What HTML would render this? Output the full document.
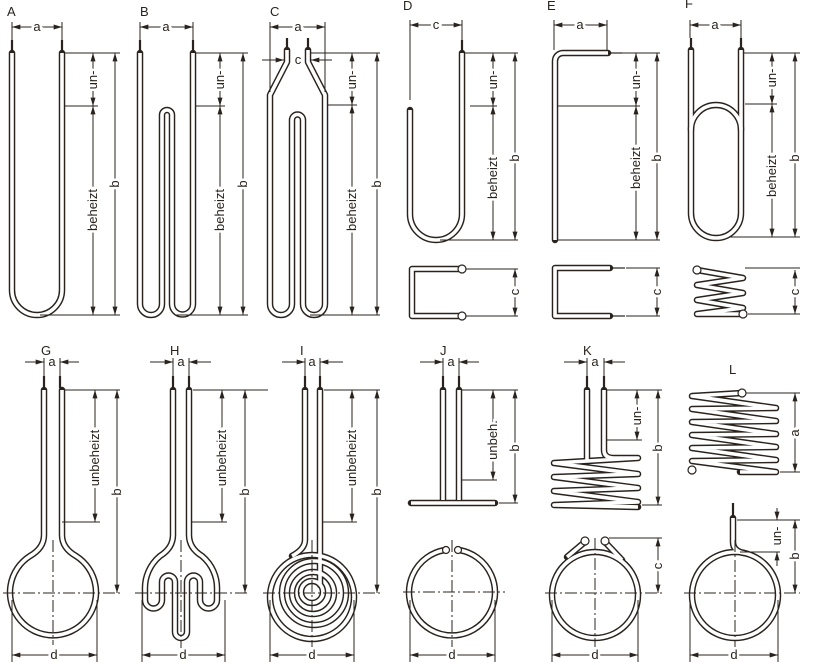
<!DOCTYPE html>
<html><head><meta charset="utf-8"><style>
html,body{margin:0;padding:0;background:#fff}
svg{display:block}
text{font-family:"Liberation Sans",sans-serif;font-size:13px;fill:#2a231d}
.big{font-size:14px}
.d{stroke:#2a231d;stroke-width:1;fill:none}
.lt{paint-order:stroke;stroke:#fff;stroke-width:5px}
.cl{stroke:#2a231d;stroke-width:1;stroke-dasharray:12 3 2 3;fill:none}
.pin{stroke:#2a231d;stroke-width:2.2}
</style></head><body>
<svg width="813" height="665" viewBox="0 0 813 665" xmlns="http://www.w3.org/2000/svg">
<defs>
<marker id="ar" viewBox="0 0 10 6" refX="10" refY="3" markerWidth="9" markerHeight="5" markerUnits="userSpaceOnUse" orient="auto-start-reverse"><path d="M0,0 L10,3 L0,6z" fill="#2a231d"/></marker>
<g id="tubes" fill="none" stroke-linejoin="round">
<path d="M12,53 V290 A25,25 0 0 0 62,290 V53"/>
<path d="M140,53 V304 A11,11 0 0 0 162,304 V115 A5,5 0 0 1 172,115 V304 A10.5,10.5 0 0 0 193,304 V53"/>
<path d="M287,50 V62 L270,95 V304 A11,11 0 0 0 292,304 V120 A5.5,5.5 0 0 1 303,120 V304 A11,11 0 0 0 325,304 V95 L308,62 V50"/>
<path d="M462,53 V214 A26,26 0 0 1 410,214 V110"/>
<path d="M460,269 H412 V316 H460"/>
<path d="M608,53 H563 A8,8 0 0 0 555,61 V240"/>
<path d="M610,268 H555 V316 H610"/>
<path d="M691,50 V130"/><path d="M741,50 V130"/>
<rect x="691" y="105" width="50" height="133" rx="25"/>
<path d="M697,270 L743,278 L697,285 L743,293 L697,300 L743,308 L697,314 L743,314"/>
<path d="M44,390 V535 Q44,548 30,556 A43,43 0 1 0 76,556 Q62,548 62,535 V390"/>
<path d="M173,390 V535 Q173,548 160,556 A42,42 0 0 0 145,590 V600 A8.5,8.5 0 0 0 162,600 V582 A6.5,6.5 0 0 1 175,582 V632 A6,6 0 0 0 187,632 V582 A6.5,6.5 0 0 1 200,582 V600 A8.5,8.5 0 0 0 217,600 V590 A42,42 0 0 0 202,556 Q189,548 189,535 V390"/>
<path d="M305,390 V540 Q305,549 292,556"/>
<circle cx="312" cy="597" r="42"/>
<circle cx="314" cy="593" r="32"/>
<circle cx="313" cy="593" r="21"/>
<circle cx="312" cy="592" r="11"/>
<path d="M320,390 V585"/>
<path d="M443,390 V500"/><path d="M459,390 V500"/>
<path d="M411,503 H495"/>
<path d="M445,550 A43,43 0 1 0 459,550"/>
<path d="M587,390 V462"/>
<path d="M604,390 V450 Q604,458 614,458 H638 L554,463 L638,474 L554,477 L638,488 L554,491 L638,502 L554,505 L638,507"/>
<circle cx="595" cy="595" r="43"/>
<path d="M586,541 L567,557"/><path d="M604,541 L622,560"/>
<path d="M742,393 L692,396 L776,408 L692,409 L776,421 L692,422 L776,434 L692,435 L776,447 L692,448 L776,460 L692,461 L776,472 L740,472"/>
<circle cx="735" cy="595" r="43"/>
<path d="M733,518 V542 Q733,551 744,553"/>
</g>
</defs>
<use href="#tubes" stroke="#2a231d" stroke-width="6.5" stroke-linecap="round"/>
<use href="#tubes" stroke="#fff" stroke-width="3.6"/>
<g fill="#fff" stroke="#2a231d" stroke-width="1.2">
<circle cx="462" cy="269" r="4"/><circle cx="462" cy="316" r="4"/>
<circle cx="697" cy="270" r="4"/><circle cx="743" cy="314" r="4"/>
<circle cx="742" cy="393" r="4"/><circle cx="692" cy="470" r="4"/>
<circle cx="585" cy="541" r="4"/><circle cx="605" cy="541" r="4"/>
<circle cx="446" cy="550" r="3.5"/><circle cx="458" cy="550" r="3.5"/>
</g>
<g class="pin">
<line x1="12" y1="40" x2="12" y2="51"/><line x1="62" y1="40" x2="62" y2="51"/>
<line x1="140" y1="40" x2="140" y2="51"/><line x1="193" y1="40" x2="193" y2="51"/>
<line x1="287" y1="38" x2="287" y2="48"/><line x1="308" y1="38" x2="308" y2="48"/>
<line x1="462" y1="40" x2="462" y2="51"/>
<line x1="610" y1="53" x2="622" y2="53" stroke-width="1.2"/>
<line x1="612" y1="268" x2="625" y2="268" stroke-width="1.2"/><line x1="612" y1="316" x2="625" y2="316" stroke-width="1.2"/>
<line x1="691" y1="38" x2="691" y2="49"/><line x1="741" y1="38" x2="741" y2="49"/>
<line x1="44" y1="376" x2="44" y2="388"/><line x1="60" y1="376" x2="60" y2="388"/>
<line x1="173" y1="376" x2="173" y2="388"/><line x1="189" y1="376" x2="189" y2="388"/>
<line x1="305" y1="376" x2="305" y2="388"/><line x1="320" y1="376" x2="320" y2="388"/>
<line x1="443" y1="376" x2="443" y2="388"/><line x1="459" y1="376" x2="459" y2="388"/>
<line x1="587" y1="376" x2="587" y2="388"/><line x1="604" y1="376" x2="604" y2="388"/>
<line x1="733" y1="503" x2="733" y2="516"/>
</g>
<g class="d">
<line x1="12" y1="22" x2="12" y2="40"/><line x1="62" y1="22" x2="62" y2="40"/>
<line x1="12" y1="27" x2="62" y2="27" marker-start="url(#ar)" marker-end="url(#ar)"/>
<line x1="65" y1="53" x2="120" y2="53"/><line x1="40" y1="315" x2="120" y2="315"/>
<line x1="65" y1="106" x2="98" y2="106"/>
<line x1="93" y1="53" x2="93" y2="106" marker-start="url(#ar)" marker-end="url(#ar)"/>
<line x1="93" y1="106" x2="93" y2="315" marker-start="url(#ar)" marker-end="url(#ar)"/>
<line x1="115" y1="53" x2="115" y2="315" marker-start="url(#ar)" marker-end="url(#ar)"/>
<line x1="140" y1="22" x2="140" y2="40"/><line x1="193" y1="22" x2="193" y2="40"/>
<line x1="140" y1="27" x2="193" y2="27" marker-start="url(#ar)" marker-end="url(#ar)"/>
<line x1="196" y1="53" x2="248" y2="53"/><line x1="175" y1="315" x2="248" y2="315"/>
<line x1="196" y1="106" x2="225" y2="106"/>
<line x1="220" y1="53" x2="220" y2="106" marker-start="url(#ar)" marker-end="url(#ar)"/>
<line x1="220" y1="106" x2="220" y2="315" marker-start="url(#ar)" marker-end="url(#ar)"/>
<line x1="243" y1="53" x2="243" y2="315" marker-start="url(#ar)" marker-end="url(#ar)"/>
<line x1="270" y1="22" x2="270" y2="92"/><line x1="325" y1="22" x2="325" y2="92"/>
<line x1="270" y1="27" x2="325" y2="27" marker-start="url(#ar)" marker-end="url(#ar)"/>
<line x1="262" y1="60" x2="284" y2="60" marker-end="url(#ar)"/>
<line x1="332" y1="60" x2="311" y2="60" marker-end="url(#ar)"/>
<line x1="311" y1="53" x2="380" y2="53"/><line x1="310" y1="315" x2="380" y2="315"/>
<line x1="328" y1="105" x2="357" y2="105"/>
<line x1="352" y1="53" x2="352" y2="105" marker-start="url(#ar)" marker-end="url(#ar)"/>
<line x1="352" y1="105" x2="352" y2="315" marker-start="url(#ar)" marker-end="url(#ar)"/>
<line x1="377" y1="53" x2="377" y2="315" marker-start="url(#ar)" marker-end="url(#ar)"/>
<line x1="410" y1="20" x2="410" y2="100"/><line x1="462" y1="20" x2="462" y2="40"/>
<line x1="410" y1="25" x2="462" y2="25" marker-start="url(#ar)" marker-end="url(#ar)"/>
<line x1="465" y1="53" x2="518" y2="53"/><line x1="440" y1="240" x2="518" y2="240"/>
<line x1="470" y1="106" x2="497" y2="106"/>
<line x1="493" y1="53" x2="493" y2="106" marker-start="url(#ar)" marker-end="url(#ar)"/>
<line x1="493" y1="106" x2="493" y2="240" marker-start="url(#ar)" marker-end="url(#ar)"/>
<line x1="515" y1="53" x2="515" y2="240" marker-start="url(#ar)" marker-end="url(#ar)"/>
<line x1="466" y1="269" x2="518" y2="269"/><line x1="466" y1="316" x2="518" y2="316"/>
<line x1="515" y1="269" x2="515" y2="316" marker-start="url(#ar)" marker-end="url(#ar)"/>
<line x1="554" y1="20" x2="554" y2="50"/><line x1="607" y1="20" x2="607" y2="50"/>
<line x1="554" y1="25" x2="607" y2="25" marker-start="url(#ar)" marker-end="url(#ar)"/>
<line x1="622" y1="53" x2="660" y2="53"/><line x1="558" y1="240" x2="660" y2="240"/>
<line x1="558" y1="106" x2="640" y2="106"/>
<line x1="636" y1="53" x2="636" y2="106" marker-start="url(#ar)" marker-end="url(#ar)"/>
<line x1="636" y1="106" x2="636" y2="240" marker-start="url(#ar)" marker-end="url(#ar)"/>
<line x1="657" y1="53" x2="657" y2="240" marker-start="url(#ar)" marker-end="url(#ar)"/>
<line x1="626" y1="268" x2="660" y2="268"/><line x1="626" y1="316" x2="660" y2="316"/>
<line x1="657" y1="268" x2="657" y2="316" marker-start="url(#ar)" marker-end="url(#ar)"/>
<line x1="690" y1="20" x2="690" y2="38"/><line x1="741" y1="20" x2="741" y2="38"/>
<line x1="690" y1="25" x2="741" y2="25" marker-start="url(#ar)" marker-end="url(#ar)"/>
<line x1="744" y1="53" x2="800" y2="53"/><line x1="730" y1="237" x2="800" y2="237"/>
<line x1="745" y1="104" x2="777" y2="104"/>
<line x1="772" y1="53" x2="772" y2="104" marker-start="url(#ar)" marker-end="url(#ar)"/>
<line x1="772" y1="104" x2="772" y2="237" marker-start="url(#ar)" marker-end="url(#ar)"/>
<line x1="795" y1="53" x2="795" y2="237" marker-start="url(#ar)" marker-end="url(#ar)"/>
<line x1="745" y1="268" x2="800" y2="268"/><line x1="748" y1="314" x2="800" y2="314"/>
<line x1="795" y1="270" x2="795" y2="314" marker-start="url(#ar)" marker-end="url(#ar)"/>
<line x1="44" y1="358" x2="44" y2="376"/><line x1="60" y1="358" x2="60" y2="376"/>
<line x1="25" y1="362" x2="44" y2="362" marker-end="url(#ar)"/>
<line x1="79" y1="362" x2="60" y2="362" marker-end="url(#ar)"/>
<line x1="64" y1="390" x2="120" y2="390"/><line x1="62" y1="522" x2="100" y2="522"/>
<line x1="95" y1="390" x2="95" y2="522" marker-start="url(#ar)" marker-end="url(#ar)"/>
<line x1="117" y1="390" x2="117" y2="593" marker-start="url(#ar)" marker-end="url(#ar)"/>
<line x1="12" y1="600" x2="12" y2="662"/><line x1="97" y1="600" x2="97" y2="662"/>
<line x1="12" y1="655" x2="97" y2="655" marker-start="url(#ar)" marker-end="url(#ar)"/>
<line x1="173" y1="358" x2="173" y2="376"/><line x1="189" y1="358" x2="189" y2="376"/>
<line x1="150" y1="362" x2="173" y2="362" marker-end="url(#ar)"/>
<line x1="211" y1="362" x2="189" y2="362" marker-end="url(#ar)"/>
<line x1="193" y1="390" x2="268" y2="390"/><line x1="191" y1="522" x2="227" y2="522"/>
<line x1="222" y1="390" x2="222" y2="522" marker-start="url(#ar)" marker-end="url(#ar)"/>
<line x1="245" y1="390" x2="245" y2="593" marker-start="url(#ar)" marker-end="url(#ar)"/>
<line x1="142" y1="600" x2="142" y2="662"/><line x1="225" y1="600" x2="225" y2="662"/>
<line x1="142" y1="655" x2="225" y2="655" marker-start="url(#ar)" marker-end="url(#ar)"/>
<line x1="305" y1="358" x2="305" y2="376"/><line x1="320" y1="358" x2="320" y2="376"/>
<line x1="282" y1="362" x2="305" y2="362" marker-end="url(#ar)"/>
<line x1="343" y1="362" x2="320" y2="362" marker-end="url(#ar)"/>
<line x1="324" y1="390" x2="380" y2="390"/><line x1="323" y1="522" x2="357" y2="522"/>
<line x1="352" y1="390" x2="352" y2="522" marker-start="url(#ar)" marker-end="url(#ar)"/>
<line x1="377" y1="390" x2="377" y2="593" marker-start="url(#ar)" marker-end="url(#ar)"/>
<line x1="270" y1="600" x2="270" y2="662"/><line x1="354" y1="600" x2="354" y2="662"/>
<line x1="270" y1="655" x2="354" y2="655" marker-start="url(#ar)" marker-end="url(#ar)"/>
<line x1="443" y1="358" x2="443" y2="376"/><line x1="459" y1="358" x2="459" y2="376"/>
<line x1="420" y1="362" x2="443" y2="362" marker-end="url(#ar)"/>
<line x1="479" y1="362" x2="459" y2="362" marker-end="url(#ar)"/>
<line x1="462" y1="390" x2="518" y2="390"/><line x1="462" y1="480" x2="497" y2="480"/>
<line x1="499" y1="503" x2="518" y2="503"/>
<line x1="493" y1="390" x2="493" y2="480" marker-start="url(#ar)" marker-end="url(#ar)"/>
<line x1="515" y1="390" x2="515" y2="503" marker-start="url(#ar)" marker-end="url(#ar)"/>
<line x1="410" y1="600" x2="410" y2="662"/><line x1="495" y1="600" x2="495" y2="662"/>
<line x1="410" y1="655" x2="495" y2="655" marker-start="url(#ar)" marker-end="url(#ar)"/>
<line x1="587" y1="358" x2="587" y2="376"/><line x1="604" y1="358" x2="604" y2="376"/>
<line x1="564" y1="362" x2="587" y2="362" marker-end="url(#ar)"/>
<line x1="625" y1="362" x2="604" y2="362" marker-end="url(#ar)"/>
<line x1="607" y1="390" x2="662" y2="390"/><line x1="607" y1="440" x2="642" y2="440"/>
<line x1="642" y1="505" x2="662" y2="505"/>
<line x1="637" y1="390" x2="637" y2="440" marker-start="url(#ar)" marker-end="url(#ar)"/>
<line x1="658" y1="390" x2="658" y2="505" marker-start="url(#ar)" marker-end="url(#ar)"/>
<line x1="609" y1="538" x2="662" y2="538"/>
<line x1="658" y1="538" x2="658" y2="593" marker-start="url(#ar)" marker-end="url(#ar)"/>
<line x1="552" y1="600" x2="552" y2="662"/><line x1="638" y1="600" x2="638" y2="662"/>
<line x1="552" y1="655" x2="638" y2="655" marker-start="url(#ar)" marker-end="url(#ar)"/>
<line x1="746" y1="393" x2="800" y2="393"/><line x1="780" y1="472" x2="800" y2="472"/>
<line x1="795" y1="393" x2="795" y2="472" marker-start="url(#ar)" marker-end="url(#ar)"/>
<line x1="737" y1="520" x2="800" y2="520"/><line x1="740" y1="552" x2="780" y2="552"/>
<line x1="777" y1="508" x2="777" y2="520" marker-end="url(#ar)"/>
<line x1="777" y1="566" x2="777" y2="552" marker-end="url(#ar)"/>
<line x1="795" y1="520" x2="795" y2="593" marker-start="url(#ar)" marker-end="url(#ar)"/>
<line x1="690" y1="600" x2="690" y2="662"/><line x1="778" y1="600" x2="778" y2="662"/>
<line x1="690" y1="655" x2="778" y2="655" marker-start="url(#ar)" marker-end="url(#ar)"/>
</g>
<g class="cl">
<line x1="3" y1="593" x2="120" y2="593"/><line x1="53" y1="540" x2="53" y2="645"/>
<line x1="135" y1="593" x2="250" y2="593"/><line x1="181" y1="540" x2="181" y2="648"/>
<line x1="263" y1="593" x2="380" y2="593"/><line x1="312" y1="540" x2="312" y2="648"/>
<line x1="403" y1="592" x2="505" y2="592"/><line x1="452" y1="540" x2="452" y2="648"/>
<line x1="545" y1="593" x2="662" y2="593"/><line x1="595" y1="538" x2="595" y2="648"/>
<line x1="684" y1="593" x2="800" y2="593"/><line x1="735" y1="540" x2="735" y2="648"/>
</g>
<g class="big">
<text x="7" y="16">A</text><text x="140" y="16">B</text><text x="270" y="16">C</text>
<text x="403" y="10">D</text><text x="547" y="10">E</text><text x="685" y="8">F</text>
<text x="41" y="355">G</text><text x="170" y="355">H</text><text x="300" y="355">I</text>
<text x="440" y="355">J</text><text x="583" y="355">K</text><text x="729" y="374">L</text>
</g>
<g text-anchor="middle" class="lt">
<text x="37" y="31">a</text><text x="166" y="31">a</text><text x="298" y="31">a</text>
<text x="298" y="64">c</text>
<text x="436" y="29">c</text><text x="580" y="29">a</text><text x="715" y="29">a</text>
<text x="52" y="366">a</text><text x="181" y="366">a</text><text x="312" y="366">a</text>
<text x="451" y="366">a</text><text x="595" y="366">a</text>
<text x="54" y="659">d</text><text x="183" y="659">d</text><text x="312" y="659">d</text>
<text x="452" y="659">d</text><text x="595" y="659">d</text><text x="734" y="659">d</text>
</g>
<g class="lt" text-anchor="middle">
<text transform="translate(97,80) rotate(-90)">un-</text>
<text transform="translate(97,210) rotate(-90)">beheizt</text>
<text transform="translate(119,184) rotate(-90)">b</text>
<text transform="translate(224,80) rotate(-90)">un-</text>
<text transform="translate(224,210) rotate(-90)">beheizt</text>
<text transform="translate(247,184) rotate(-90)">b</text>
<text transform="translate(356,80) rotate(-90)">un-</text>
<text transform="translate(356,210) rotate(-90)">beheizt</text>
<text transform="translate(381,184) rotate(-90)">b</text>
<text transform="translate(497,80) rotate(-90)">un-</text>
<text transform="translate(497,178) rotate(-90)">beheizt</text>
<text transform="translate(519,158) rotate(-90)">b</text>
<text transform="translate(519,292) rotate(-90)">c</text>
<text transform="translate(640,80) rotate(-90)">un-</text>
<text transform="translate(640,168) rotate(-90)">beheizt</text>
<text transform="translate(661,158) rotate(-90)">b</text>
<text transform="translate(661,292) rotate(-90)">c</text>
<text transform="translate(776,78) rotate(-90)">un-</text>
<text transform="translate(776,176) rotate(-90)">beheizt</text>
<text transform="translate(799,158) rotate(-90)">b</text>
<text transform="translate(799,292) rotate(-90)">c</text>
<text transform="translate(99,458) rotate(-90)">unbeheizt</text>
<text transform="translate(121,492) rotate(-90)">b</text>
<text transform="translate(226,458) rotate(-90)">unbeheizt</text>
<text transform="translate(249,492) rotate(-90)">b</text>
<text transform="translate(356,458) rotate(-90)">unbeheizt</text>
<text transform="translate(381,492) rotate(-90)">b</text>
<text transform="translate(497,440) rotate(-90)">unbeh.</text>
<text transform="translate(519,448) rotate(-90)">b</text>
<text transform="translate(641,416) rotate(-90)">un-</text>
<text transform="translate(662,448) rotate(-90)">b</text>
<text transform="translate(662,566) rotate(-90)">c</text>
<text transform="translate(799,433) rotate(-90)">a</text>
<text transform="translate(781,536) rotate(-90)">un-</text>
<text transform="translate(799,556) rotate(-90)">b</text>
</g>
</svg>
</body></html>
